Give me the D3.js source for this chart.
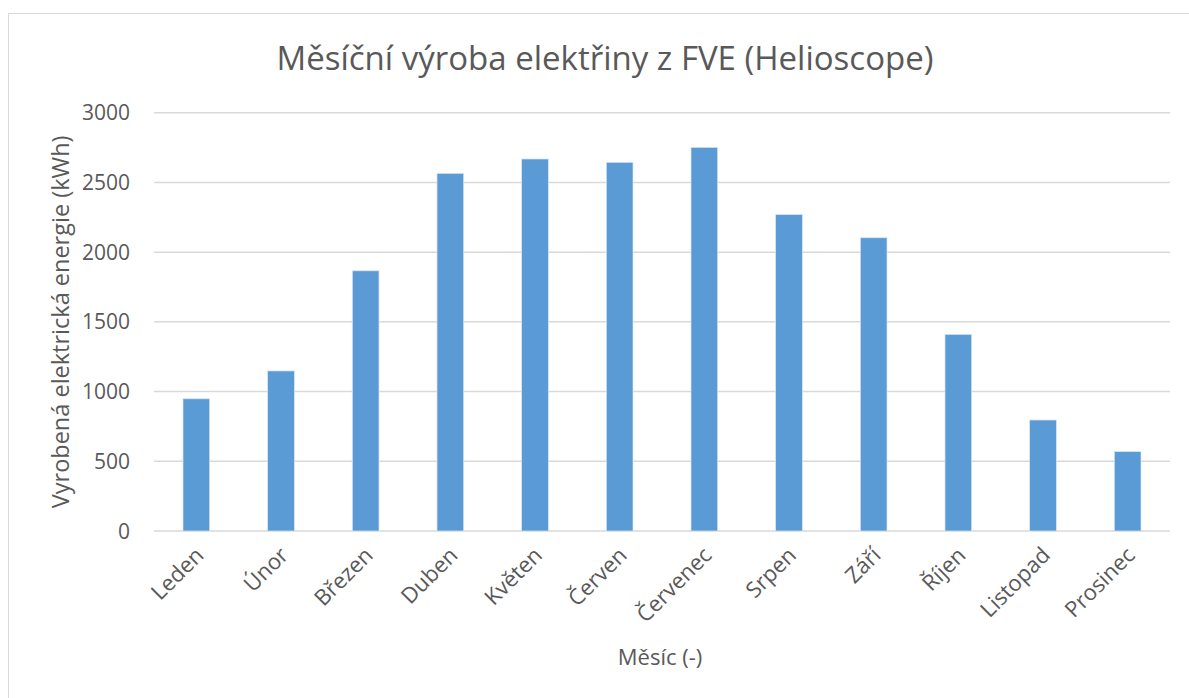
<!DOCTYPE html>
<html>
<head>
<meta charset="utf-8">
<script src="https://cdn.jsdelivr.net/npm/d3@7"></script>
<style>
  body { margin: 0; background: #fff; }
  svg text { font-family: "Open Sans", sans-serif; fill: #595959; }
</style>
</head>
<body>
<svg id="chart"></svg>
<script>
// months on the x axis
var months = ["Leden", "Únor", "Březen", "Duben", "Květen", "Červen",
  "Červenec", "Srpen", "Září", "Říjen", "Listopad", "Prosinec"]
// produced energy per month, kWh
var energy = [948, 1148, 1866, 2565, 2668, 2644, 2751, 2269, 2103, 1410, 796, 569]
var yTicks = [0, 500, 1000, 1500, 2000, 2500, 3000]

var chartTitle = "Měsíční výroba elektřiny z FVE (Helioscope)"
var xTitle = "Měsíc (-)"
var yTitle = "Vyrobená elektrická energie (kWh)"

var W = 1189, H = 698
var plot = { left: 154, right: 1170, top: 112.7, bottom: 531 }

var svg = d3.select("#chart").attr("width", W).attr("height", H)

// chart frame, it runs off the right and bottom of the picture
svg.append("rect")
  .attr("x", 8.5).attr("y", 13.5)
  .attr("width", W).attr("height", H)
  .attr("fill", "#fff")
  .attr("stroke", "#d9d9d9")
  .attr("stroke-width", 1)

var xScale = d3.scaleBand()
  .domain(months)
  .range([plot.left, plot.right])
  .paddingInner(0.685)
  .paddingOuter(0.3425)

var yScale = d3.scaleLinear()
  .domain([0, 3000])
  .range([plot.bottom, plot.top])

// grid lines
svg.append("g")
  .selectAll("line")
  .data(yTicks)
  .enter()
  .append("line")
  .attr("x1", plot.left).attr("x2", plot.right)
  .attr("y1", function(d) { return yScale(d) })
  .attr("y2", function(d) { return yScale(d) })
  .attr("stroke", "#d9d9d9")
  .attr("stroke-width", 1.5)

// y tick labels
svg.append("g")
  .selectAll("text")
  .data(yTicks)
  .enter()
  .append("text")
  .attr("x", 130)
  .attr("y", function(d) { return yScale(d) })
  .attr("dy", "0.36em")
  .attr("text-anchor", "end")
  .style("font-size", "21px")
  .text(function(d) { return d })

// bars
svg.append("g")
  .selectAll("rect")
  .data(energy)
  .enter()
  .append("rect")
  .attr("x", function(d, i) { return xScale(months[i]) })
  .attr("y", function(d) { return yScale(d) })
  .attr("width", xScale.bandwidth())
  .attr("height", function(d) { return yScale(0) - yScale(d) })
  .attr("fill", "#5b9bd5")
  .attr("stroke", "#d6e4f3")
  .attr("stroke-width", 0.7)

// month labels, rotated
svg.append("g")
  .selectAll("text")
  .data(months)
  .enter()
  .append("text")
  .attr("transform", function(d) {
    var cx = xScale(d) + xScale.bandwidth() / 2 + 3
    return "translate(" + cx + "," + 551 + ") rotate(-45)"
  })
  .attr("text-anchor", "end")
  .attr("dy", "0.36em")
  .style("font-size", "22px")
  .text(function(d) { return d })

// titles
svg.append("text")
  .attr("x", 605)
  .attr("y", 70)
  .attr("text-anchor", "middle")
  .style("font-size", "33px")
  .text(chartTitle)

svg.append("text")
  .attr("x", 660)
  .attr("y", 665)
  .attr("text-anchor", "middle")
  .style("font-size", "22px")
  .text(xTitle)

svg.append("text")
  .attr("transform", "translate(69," + (plot.top + plot.bottom) / 2 + ") rotate(-90)")
  .attr("text-anchor", "middle")
  .style("font-size", "23.5px")
  .text(yTitle)
</script>
</body>
</html>
